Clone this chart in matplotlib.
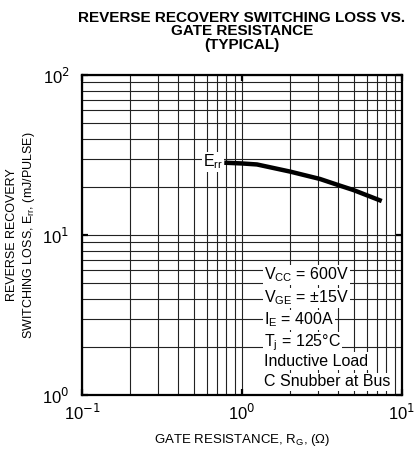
import matplotlib
matplotlib.use("Agg")
import matplotlib.pyplot as plt
import numpy as np

plt.rcParams['font.family'] = ['Liberation Sans', 'DejaVu Sans']

# Data
rg = [0.775, 1.0, 1.24, 2.0, 3.07, 4.0, 4.97, 7.47]
err = [28.3, 28.0, 27.6, 24.9, 22.4, 20.5, 19.1, 16.3]

title = "REVERSE RECOVERY SWITCHING LOSS VS.\nGATE RESISTANCE\n(TYPICAL)"
xlabel = "GATE RESISTANCE, R$_\\mathregular{G}$, (Ω)"
ylabel = "REVERSE RECOVERY\nSWITCHING LOSS, E$_\\mathregular{rr}$, (mJ/PULSE)"
cond_lines = ["V$_\\mathregular{CC}$ = 600V", "V$_\\mathregular{GE}$ = ±15V",
              "I$_\\mathregular{E}$ = 400A", "T$_\\mathregular{j}$ = 125°C",
              "Inductive Load", "C Snubber at Bus"]

W, H = 416, 449
fig = plt.figure(figsize=(W/100, H/100), dpi=100)
ax = fig.add_axes([82/W, 1-395/H, 320/W, 320/H])
ax.set_xscale('log')
ax.set_yscale('log')
ax.set_xlim(0.1, 10)
ax.set_ylim(1, 100)

ax.grid(True, which='both', color='#222222', linewidth=0.8)
ax.set_axisbelow(True)

ax.plot(rg, err, color='black', linewidth=3.2, solid_capstyle='butt', zorder=5)
ax.text(0.76, 28.6, "E$_\\mathregular{rr}$", fontsize=11.5, ha='right', va='center',
        bbox=dict(facecolor='white', edgecolor='none', pad=0.5), zorder=6)

y_px = [275, 298, 320, 343, 361, 382]
for t, yp in zip(cond_lines, y_px):
    fig.text(264/W, 1-yp/H, t, fontsize=11.5, ha='left', va='center', zorder=6,
             bbox=dict(facecolor='white', edgecolor='none', pad=0.8))

for sp in ax.spines.values():
    sp.set_linewidth(1.6)
ax.tick_params(which='major', direction='in', length=4, width=1.6, labelsize=12,
               top=True, right=True)
ax.tick_params(axis='x', pad=6)
ax.tick_params(axis='y', pad=9)
ax.tick_params(which='minor', length=0)
ax.set_xticks([0.1, 1, 10])
ax.set_xticklabels(["10$^{-1}$", "10$^{0}$", "10$^{1}$"])
ax.set_yticks([1, 10, 100])
ax.set_yticklabels(["10$^{0}$", "10$^{1}$", "10$^{2}$"])

ax.set_xlabel(xlabel, fontsize=9.5, labelpad=6)
ax.set_ylabel(ylabel, fontsize=9, labelpad=4)
ax.set_title(title, fontsize=11, fontweight='bold', pad=19, linespacing=0.92)

fig.savefig("out.png", dpi=100)
